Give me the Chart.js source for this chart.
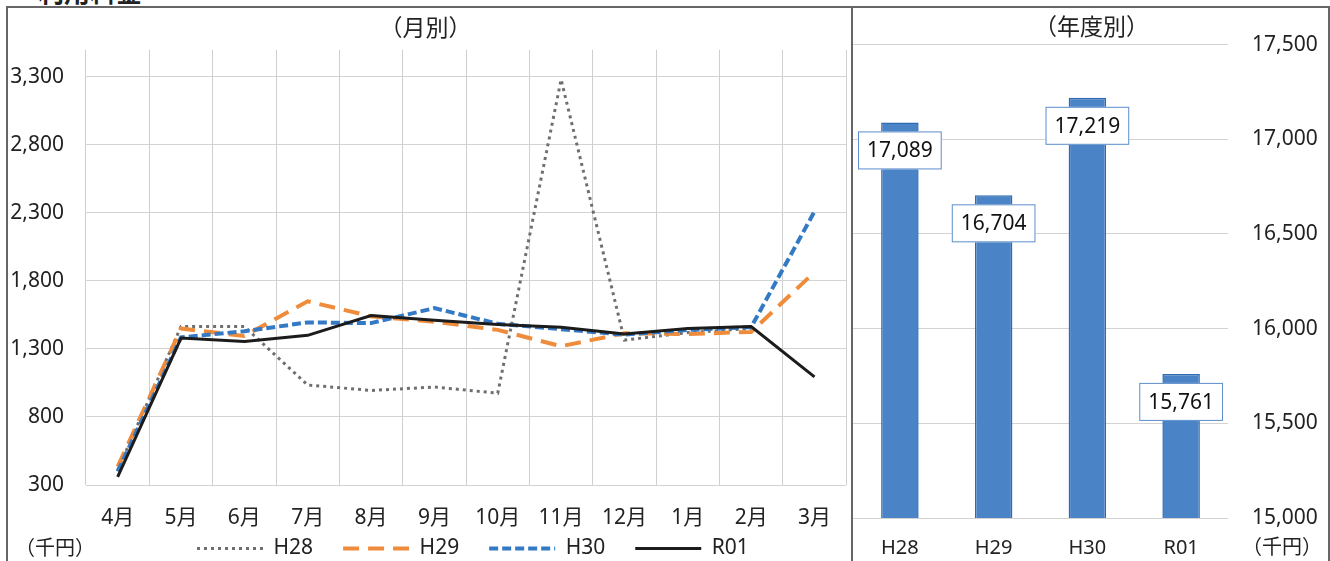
<!DOCTYPE html>
<html>
<head>
<meta charset="utf-8">
<script src="https://cdn.jsdelivr.net/npm/chart.js@4"></script>
<style>
  body { margin: 0; background: #fff; width: 1330px; height: 561px; overflow: hidden; position: relative;
         font-family: 'Noto Sans', 'Noto Sans CJK JP', sans-serif; color: #222; }
  #frame { position: absolute; left: 6px; top: 6px; width: 1320px; height: 560px; border: 2px solid #666; border-bottom: none; }
  #divider { position: absolute; left: 851px; top: 6px; width: 2px; height: 555px; background: #666; }
  #leftWrap { position: absolute; left: 0; top: 8px; }
  #rightWrap { position: absolute; left: 853px; top: 8px; }
  .unit { position: absolute; font-size: 20px; line-height: 24px; }
  #cut { position: absolute; left: 38px; top: -22px; font-size: 26px; line-height: 26px; font-weight: bold; font-family: 'Noto Sans CJK JP', sans-serif; }
</style>
</head>
<body>
<div id="cut">利用料金</div>
<div id="frame"></div>
<div id="divider"></div>
<div id="leftWrap"><canvas id="monthlyChart" width="851" height="553"></canvas></div>
<div id="rightWrap"><canvas id="yearlyChart" width="477" height="553"></canvas></div>
<div class="unit" style="left:15px; top:536px;">（千円）</div>
<div class="unit" style="left:1242px; top:535px;">（千円）</div>
<script>
// monthly values (千円)
var months = ['4月', '5月', '6月', '7月', '8月', '9月', '10月', '11月', '12月', '1月', '2月', '3月'];
var h28 = [410, 1465, 1465, 1035, 995, 1020, 975, 3280, 1365, 1420, 1450, null];
var h29 = [435, 1450, 1395, 1650, 1540, 1500, 1440, 1320, 1415, 1410, 1425, 1865];
var h30 = [400, 1385, 1430, 1495, 1490, 1600, 1485, 1445, 1405, 1440, 1460, 2310];
var r01 = [360, 1380, 1355, 1400, 1545, 1510, 1480, 1460, 1410, 1450, 1465, 1095];
var monthlyTicks = [300, 800, 1300, 1800, 2300, 2800, 3300];

// yearly totals (千円)
var years = ['H28', 'H29', 'H30', 'R01'];
var yearlyValues = [17089, 16704, 17219, 15761];
var yearlyTicks = [15000, 15500, 16000, 16500, 17000, 17500];

Chart.defaults.font.family = "'Noto Sans', 'Noto Sans CJK JP', sans-serif";
Chart.defaults.color = '#222';

function fmt(v) { return Number(v).toLocaleString('en-US'); }

// put the legend where the original has it
var legendPlace = {
  id: 'legendPlace',
  afterLayout: function(chart) {
    var lg = chart.legend;
    var pad = chart.options.plugins.legend.labels.padding;
    lg.left = 197 - pad;
    lg.top = 540 - 10 - pad;
  }
};

new Chart(document.getElementById('monthlyChart'), {
  type: 'line',
  data: {
    labels: months,
    datasets: [
      { label: 'H28', data: h28, borderColor: '#6f6f6f', borderWidth: 3, borderDash: [3, 4], order: 3 },
      { label: 'H29', data: h29, borderColor: '#ef8c3c', borderWidth: 4, borderDash: [16, 9], order: 2 },
      { label: 'H30', data: h30, borderColor: '#3479c4', borderWidth: 4, borderDash: [9, 4], order: 1 },
      { label: 'R01', data: r01, borderColor: '#1c1c1c', borderWidth: 3, order: 0 }
    ]
  },
  options: {
    responsive: false,
    animation: false,
    elements: { point: { radius: 0 }, line: { tension: 0, fill: false } },
    layout: { padding: { left: 0, right: 0, top: 0, bottom: 0 } },
    plugins: {
      title: { display: true, text: '（月別）', font: { size: 23, weight: 'normal' }, padding: { top: 8, bottom: 6 } },
      legend: {
        position: 'bottom', align: 'start', maxHeight: 31,
        labels: {
          usePointStyle: true, pointStyle: 'line', pointStyleWidth: 66, boxHeight: 20,
          padding: 30, font: { size: 21 }, color: '#222',
          generateLabels: function(chart) {
            return chart.data.datasets.map(function(ds, i) {
              return {
                text: ds.label, datasetIndex: i, hidden: false,
                strokeStyle: ds.borderColor, fillStyle: ds.borderColor,
                lineWidth: ds.borderWidth, lineDash: ds.borderDash || [],
                pointStyle: 'line', fontColor: '#222'
              };
            });
          }
        }
      },
      tooltip: { enabled: false }
    },
    scales: {
      x: {
        offset: true,
        afterFit: function(scale) { scale.height = 45; },
        grid: { offset: true, color: '#cfcfcf', lineWidth: 1, drawTicks: false },
        border: { display: false },
        ticks: { padding: 20, font: { size: 21 }, color: '#222' }
      },
      y: {
        min: 300, max: 3500,
        afterBuildTicks: function(scale) { scale.ticks = monthlyTicks.map(function(v) { return { value: v }; }); },
        afterFit: function(scale) { scale.width = 86; },
        grid: { color: '#d3d3d3', lineWidth: 1, drawTicks: false },
        border: { display: false },
        ticks: { padding: 22, font: { size: 21 }, color: '#222', callback: fmt }
      }
    }
  },
  plugins: [legendPlace]
});

// value boxes on the bars
var barLabels = {
  id: 'barLabels',
  afterDatasetsDraw: function(chart) {
    var ctx = chart.ctx;
    var meta = chart.getDatasetMeta(0);
    ctx.save();
    ctx.font = "21px 'Noto Sans', sans-serif";
    ctx.textAlign = 'center';
    ctx.textBaseline = 'middle';
    meta.data.forEach(function(bar, i) {
      var text = fmt(yearlyValues[i]);
      var w = ctx.measureText(text).width + 18;
      var h = 38;
      var cx = bar.x, cy = bar.y + 28;
      ctx.fillStyle = '#fff';
      ctx.fillRect(cx - w / 2, cy - h / 2, w, h);
      ctx.strokeStyle = '#5b8dcc';
      ctx.lineWidth = 1;
      ctx.strokeRect(cx - w / 2 + 0.5, cy - h / 2 + 0.5, w - 1, h - 1);
      ctx.fillStyle = '#111';
      ctx.fillText(text, cx, cy + 1);
    });
    ctx.restore();
  }
};

new Chart(document.getElementById('yearlyChart'), {
  type: 'bar',
  data: {
    labels: years,
    datasets: [{
      label: '年度別', data: yearlyValues,
      backgroundColor: '#4a83c6', borderColor: '#2f6bb3', borderWidth: 1.5,
      barPercentage: 0.4, categoryPercentage: 1
    }]
  },
  options: {
    responsive: false,
    animation: false,
    layout: { padding: { left: 0, right: 0, top: 0, bottom: 4 } },
    plugins: {
      title: { display: true, text: '（年度別）', font: { size: 23, weight: 'normal' }, padding: { top: 5, bottom: 2 } },
      legend: { display: false },
      tooltip: { enabled: false }
    },
    scales: {
      x: {
        afterFit: function(scale) { scale.height = 39; },
        grid: { display: false },
        border: { display: false },
        ticks: { padding: 10, font: { size: 20 }, color: '#222' }
      },
      y: {
        position: 'right',
        min: 15000, max: 17500,
        afterBuildTicks: function(scale) { scale.ticks = yearlyTicks.map(function(v) { return { value: v }; }); },
        afterFit: function(scale) { scale.width = 102; },
        grid: { color: '#d3d3d3', lineWidth: 1, drawTicks: false },
        border: { display: false },
        ticks: { padding: 24, font: { size: 21 }, color: '#222', callback: fmt }
      }
    }
  },
  plugins: [barLabels]
});
</script>
</body>
</html>
